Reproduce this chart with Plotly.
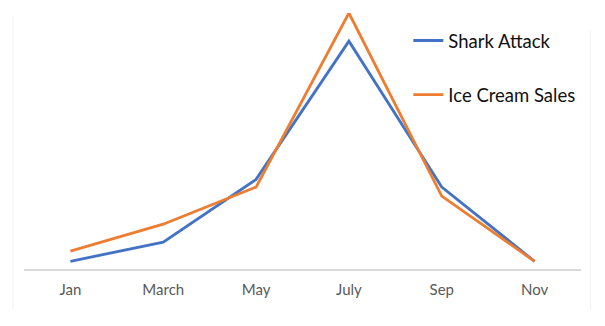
import plotly.graph_objects as go

months = ["Jan", "March", "May", "July", "Sep", "Nov"]
shark_attack = [3, 10.5, 35, 89, 32, 3]
ice_cream_sales = [7, 17.5, 32, 100, 28.5, 3]

fig = go.Figure()
fig.add_trace(go.Scatter(x=months, y=shark_attack, mode="lines", name="Shark Attack",
                         legendgroup="a", line=dict(color="#4472C4", width=2.8)))
fig.add_trace(go.Scatter(x=months, y=ice_cream_sales, mode="lines", name="Ice Cream Sales",
                         legendgroup="b", line=dict(color="#ED7D31", width=2.8)))

fig.update_layout(
    width=605, height=326,
    margin=dict(l=24, r=24, t=13, b=57),
    paper_bgcolor="white", plot_bgcolor="white",
    showlegend=True,
    legend=dict(x=0.69, y=0.965, xanchor="left", yanchor="top",
                font=dict(family="Lato", size=18.5, color="#111111"),
                tracegroupgap=27, bgcolor="rgba(0,0,0,0)", itemwidth=30,
                traceorder="grouped"),
    xaxis=dict(type="category", range=[-0.5, 5.5], showgrid=False, zeroline=False,
               showline=True, linecolor="#D9D9D9", linewidth=1.5, ticks="",
               tickfont=dict(family="Lato", size=15, color="#595959"), ticklabelstandoff=6),
    yaxis=dict(range=[0, 100], showgrid=False, zeroline=False, showticklabels=False,
               showline=False),
    shapes=[
        dict(type="line", xref="paper", yref="paper", x0=-0.02, x1=-0.02, y0=-0.16, y1=0.99,
             line=dict(color="#F2F2F2", width=1)),
        dict(type="line", xref="paper", yref="paper", x0=1.017, x1=1.017, y0=-0.16, y1=0.93,
             line=dict(color="#F2F2F2", width=1)),
    ],
)
fig.write_html("out.html")
